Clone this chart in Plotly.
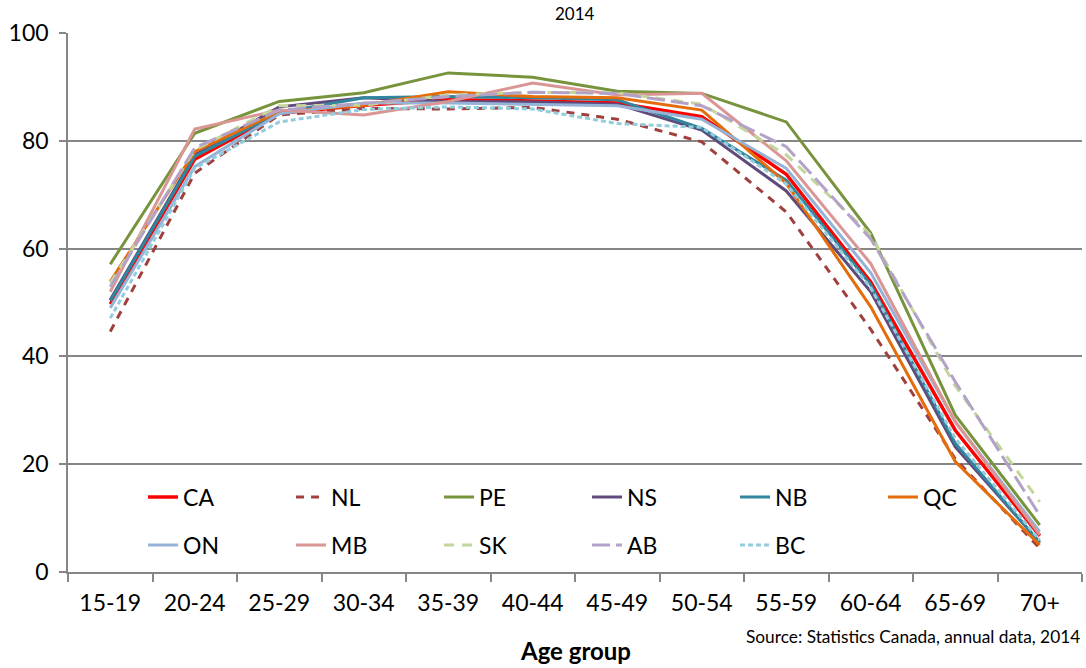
import plotly.graph_objects as go

categories = ["15-19", "20-24", "25-29", "30-34", "35-39", "40-44",
              "45-49", "50-54", "55-59", "60-64", "65-69", "70+"]

CA = [49.7, 76.6, 85.1, 86.6, 87.6, 87.4, 87.0, 84.5, 73.8, 53.8, 26.3, 6.7]
NL = [44.6, 74.0, 84.8, 86.0, 85.9, 86.2, 84.0, 79.8, 66.8, 45.0, 21.0, 4.4]
PE = [57.1, 81.4, 87.3, 88.9, 92.6, 91.8, 89.2, 88.8, 83.5, 62.9, 29.1, 8.7]
NS = [50.5, 77.4, 86.3, 88.0, 87.3, 87.2, 86.8, 82.0, 70.7, 52.0, 23.2, 5.5]
NB = [50.3, 77.1, 85.2, 88.0, 88.2, 88.0, 87.6, 82.3, 72.7, 53.3, 23.9, 5.4]
QC = [53.9, 78.0, 85.4, 86.6, 89.1, 88.2, 88.0, 85.7, 72.1, 49.2, 20.5, 5.0]
ON = [49.0, 75.2, 85.0, 87.0, 87.0, 86.8, 86.5, 84.0, 74.9, 55.5, 27.9, 7.5]
MB = [52.0, 82.2, 85.7, 84.8, 87.3, 90.7, 88.5, 88.8, 76.3, 57.2, 27.9, 6.9]
SK = [53.6, 78.3, 86.5, 86.6, 88.5, 89.0, 88.9, 86.8, 77.4, 62.5, 34.5, 13.0]
AB = [52.9, 78.7, 85.7, 87.0, 88.2, 89.0, 88.8, 86.5, 78.9, 61.8, 35.3, 10.5]
BC = [47.1, 74.9, 83.5, 85.8, 86.3, 85.9, 83.2, 82.5, 72.0, 52.7, 24.8, 5.9]

series_names = ["CA", "NL", "PE", "NS", "NB", "QC", "ON", "MB", "SK", "AB", "BC"]
series_values = [CA, NL, PE, NS, NB, QC, ON, MB, SK, AB, BC]

styles = {
    "CA": dict(color="#FF0000", width=3.5, dash="solid"),
    "NL": dict(color="#A0403E", width=3, dash="8px,7px"),
    "PE": dict(color="#77933C", width=3, dash="solid"),
    "NS": dict(color="#604A7B", width=3, dash="solid"),
    "NB": dict(color="#31859C", width=3, dash="solid"),
    "QC": dict(color="#E46C0A", width=3, dash="solid"),
    "ON": dict(color="#95B3D7", width=3, dash="solid"),
    "MB": dict(color="#D99694", width=3, dash="solid"),
    "SK": dict(color="#C3D69B", width=3, dash="10px,8px"),
    "AB": dict(color="#B3A2C7", width=3, dash="18px,6px"),
    "BC": dict(color="#93CDDD", width=3, dash="5px,3px"),
}

FONT = "Lato, 'Open Sans', sans-serif"

fig = go.Figure()
for i, (name, vals) in enumerate(zip(series_names, series_values)):
    fig.add_trace(go.Scatter(
        x=categories, y=vals, name=name, mode="lines",
        line=styles[name],
        legend="legend" if i < 6 else "legend2",
    ))

legend_common = dict(
    orientation="h", xanchor="left", yanchor="middle",
    entrywidth=103, entrywidthmode="pixels",
    font=dict(family=FONT, size=23, color="#000000"),
    bgcolor="rgba(0,0,0,0)", borderwidth=0,
    itemclick=False, itemdoubleclick=False,
)

fig.update_layout(
    width=1086, height=668,
    margin=dict(l=68, r=4, t=33, b=96),
    paper_bgcolor="white", plot_bgcolor="white",
    font=dict(family=FONT, size=23, color="#000000"),
    legend=dict(x=0.074, y=0.139, **legend_common),
    legend2=dict(x=0.074, y=0.050, **legend_common),
    xaxis=dict(
        type="category", showline=True, linecolor="#868686", linewidth=1.5,
        ticks="outside", tickson="boundaries", ticklen=8, tickcolor="#868686",
        tickwidth=1.5, showgrid=False, ticklabelstandoff=10,
        tickfont=dict(family=FONT, size=23, color="#000000"),
        range=[-0.5, 11.5],
    ),
    yaxis=dict(
        range=[0, 100], dtick=20, showline=True, linecolor="#868686",
        linewidth=1.5, ticks="outside", ticklen=7, tickcolor="#868686",
        tickwidth=1.5, showgrid=True, gridcolor="#868686", gridwidth=1.5,
        zeroline=False, ticklabelstandoff=6,
        tickfont=dict(family=FONT, size=23, color="#000000"),
    ),
    annotations=[
        dict(text="2014", xref="paper", yref="paper", x=0.5, y=1.037,
             xanchor="center", yanchor="middle", showarrow=False,
             font=dict(family=FONT, size=17, color="#000000")),
        dict(text="<b>Age group</b>", xref="paper", yref="paper", x=0.5,
             y=-(650 - 572) / 539, xanchor="center", yanchor="middle",
             showarrow=False, font=dict(family=FONT, size=24, color="#000000")),
        dict(text="Source: Statistics Canada, annual data, 2014", xref="paper",
             yref="paper", x=1.0, y=-(636 - 572) / 539, xanchor="right",
             yanchor="middle", showarrow=False,
             font=dict(family=FONT, size=17.3, color="#000000")),
    ],
)

fig.write_html("out.html", config={"displayModeBar": False},
               post_script="document.body.style.margin='0';document.body.style.overflow='hidden';")
